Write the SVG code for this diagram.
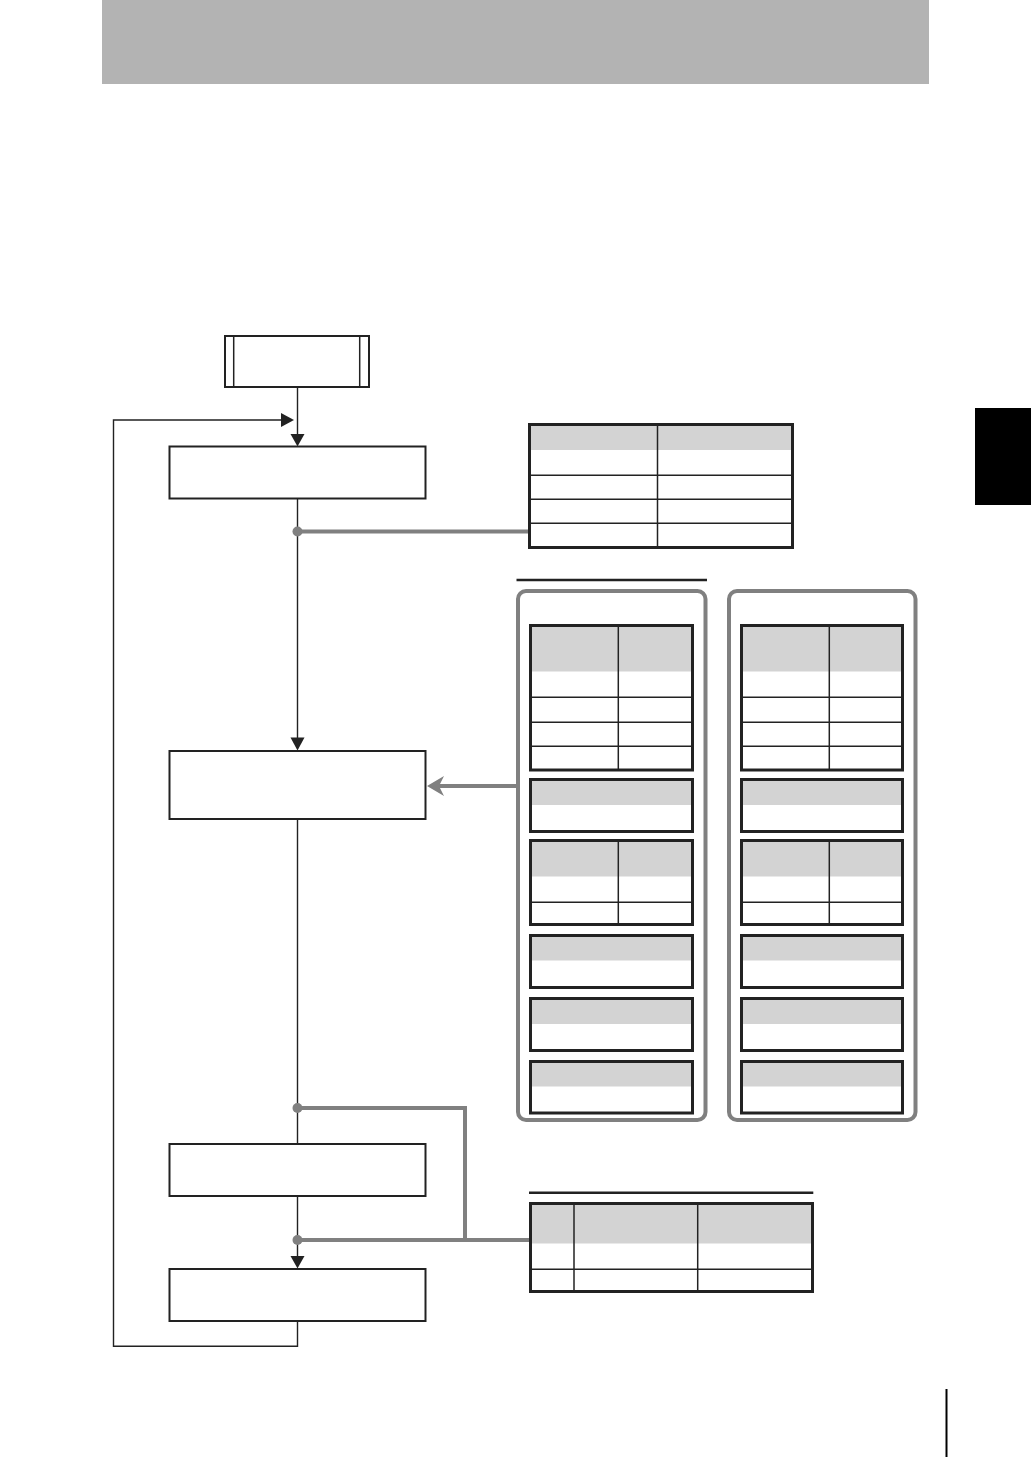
<svg xmlns="http://www.w3.org/2000/svg" width="1031" height="1457" viewBox="0 0 1031 1457">
<style>
.box{fill:#fff;stroke:#222;stroke-width:2}
.tbl{fill:none;stroke:#222;stroke-width:3}
.hd{fill:#d3d3d3}
.ln{stroke:#222;stroke-width:1.5;fill:none}
.wire{stroke:#222;stroke-width:1.4;fill:none}
.gw{stroke:#808080;stroke-width:4;fill:none}
.panel{fill:#fff;stroke:#808080;stroke-width:4}
.ah{fill:#222}
.dot{fill:#808080}
.rule{stroke:#222;stroke-width:2.5}
</style>
<rect x="0" y="0" width="1031" height="1457" fill="#fff"/>
<g id="header"><rect x="102" y="0" width="827" height="84" fill="#b3b3b3"/></g>
<g id="tab"><rect x="975" y="408" width="56" height="97" fill="#000"/></g>
<g id="pagemark"><line x1="946.5" y1="1389" x2="946.5" y2="1457" stroke="#000" stroke-width="2"/></g>

<g id="connectors">
  <line class="wire" x1="297.5" y1="387" x2="297.5" y2="435"/>
  <path class="ah" d="M290.5,434 L304.5,434 L297.5,446.5 Z"/>
  <line class="wire" x1="297.5" y1="498" x2="297.5" y2="738"/>
  <path class="ah" d="M290.5,737.5 L304.5,737.5 L297.5,750.5 Z"/>
  <line class="wire" x1="297.5" y1="819" x2="297.5" y2="1144"/>
  <line class="wire" x1="297.5" y1="1196" x2="297.5" y2="1257"/>
  <path class="ah" d="M290.5,1256 L304.5,1256 L297.5,1268.5 Z"/>
  <polyline class="wire" points="297.5,1320.5 297.5,1346.3 113.5,1346.3 113.5,420 282,420"/>
  <path class="ah" d="M281,413 L294,420 L281,427 Z"/>
  <line class="gw" x1="297.5" y1="531.5" x2="530" y2="531.5"/>
  <circle class="dot" cx="297.5" cy="531.5" r="5"/>
  <line class="gw" x1="517" y1="786" x2="438" y2="786"/>
  <path d="M427,786 L444,776 L439,786 L444,796 Z" fill="#808080"/>
  <polyline class="gw" points="297.5,1108 465,1108 465,1240"/>
  <line class="gw" x1="297.5" y1="1240" x2="530" y2="1240"/>
  <circle class="dot" cx="297.5" cy="1108" r="5"/>
  <circle class="dot" cx="297.5" cy="1240" r="5"/>
</g>

<g id="start">
  <rect class="box" x="225" y="336" width="144" height="51"/>
  <line class="ln" x1="233.7" y1="336" x2="233.7" y2="387"/>
  <line class="ln" x1="359.7" y1="336" x2="359.7" y2="387"/>
</g>
<g id="step1"><rect class="box" x="169.5" y="446.5" width="256" height="52"/></g>
<g id="step2"><rect class="box" x="169.5" y="751" width="256" height="68"/></g>
<g id="step3"><rect class="box" x="169.5" y="1144" width="256" height="52"/></g>
<g id="step4"><rect class="box" x="169.5" y="1269" width="256" height="52"/></g>

<g id="table1">
  <rect x="529.5" y="424.5" width="263" height="123" fill="#fff"/>
  <rect class="hd" x="529.5" y="424.5" width="263" height="25.5"/>
  <line class="ln" x1="657.5" y1="424.5" x2="657.5" y2="547.5"/>
  <line class="ln" x1="529.5" y1="475.3" x2="792.5" y2="475.3"/>
  <line class="ln" x1="529.5" y1="499.3" x2="792.5" y2="499.3"/>
  <line class="ln" x1="529.5" y1="523.3" x2="792.5" y2="523.3"/>
  <rect class="tbl" x="529.5" y="424.5" width="263" height="123"/>
</g>

<g id="rule-left"><line class="rule" x1="516.5" y1="580" x2="707" y2="580"/></g>

<g id="panel-left">
  <rect class="panel" x="518" y="591" width="187.5" height="529" rx="8"/>
  <g id="pl-t1">
    <rect class="hd" x="530.5" y="625.5" width="162" height="46"/>
    <line class="ln" x1="618.3" y1="625.5" x2="618.3" y2="770"/>
    <line class="ln" x1="530.5" y1="697.3" x2="692.5" y2="697.3"/>
    <line class="ln" x1="530.5" y1="722.3" x2="692.5" y2="722.3"/>
    <line class="ln" x1="530.5" y1="746.3" x2="692.5" y2="746.3"/>
    <rect class="tbl" x="530.5" y="625.5" width="162" height="144.5"/>
  </g>
  <g id="pl-t2">
    <rect class="hd" x="530.5" y="779.5" width="162" height="25.5"/>
    <rect class="tbl" x="530.5" y="779.5" width="162" height="52"/>
  </g>
  <g id="pl-t3">
    <rect class="hd" x="530.5" y="840.5" width="162" height="36"/>
    <line class="ln" x1="618.3" y1="840.5" x2="618.3" y2="924.5"/>
    <line class="ln" x1="530.5" y1="902.3" x2="692.5" y2="902.3"/>
    <rect class="tbl" x="530.5" y="840.5" width="162" height="84"/>
  </g>
  <g id="pl-t4">
    <rect class="hd" x="530.5" y="935.5" width="162" height="25"/>
    <rect class="tbl" x="530.5" y="935.5" width="162" height="52"/>
  </g>
  <g id="pl-t5">
    <rect class="hd" x="530.5" y="998.5" width="162" height="25.5"/>
    <rect class="tbl" x="530.5" y="998.5" width="162" height="52"/>
  </g>
  <g id="pl-t6">
    <rect class="hd" x="530.5" y="1061.5" width="162" height="25"/>
    <rect class="tbl" x="530.5" y="1061.5" width="162" height="51.5"/>
  </g>
</g>

<g id="panel-right">
  <rect class="panel" x="729" y="591" width="186.5" height="529" rx="8"/>
  <g id="pr-t1">
    <rect class="hd" x="741.5" y="625.5" width="161" height="46"/>
    <line class="ln" x1="829.3" y1="625.5" x2="829.3" y2="770"/>
    <line class="ln" x1="741.5" y1="697.3" x2="902.5" y2="697.3"/>
    <line class="ln" x1="741.5" y1="722.3" x2="902.5" y2="722.3"/>
    <line class="ln" x1="741.5" y1="746.3" x2="902.5" y2="746.3"/>
    <rect class="tbl" x="741.5" y="625.5" width="161" height="144.5"/>
  </g>
  <g id="pr-t2">
    <rect class="hd" x="741.5" y="779.5" width="161" height="25.5"/>
    <rect class="tbl" x="741.5" y="779.5" width="161" height="52"/>
  </g>
  <g id="pr-t3">
    <rect class="hd" x="741.5" y="840.5" width="161" height="36"/>
    <line class="ln" x1="829.3" y1="840.5" x2="829.3" y2="924.5"/>
    <line class="ln" x1="741.5" y1="902.3" x2="902.5" y2="902.3"/>
    <rect class="tbl" x="741.5" y="840.5" width="161" height="84"/>
  </g>
  <g id="pr-t4">
    <rect class="hd" x="741.5" y="935.5" width="161" height="25"/>
    <rect class="tbl" x="741.5" y="935.5" width="161" height="52"/>
  </g>
  <g id="pr-t5">
    <rect class="hd" x="741.5" y="998.5" width="161" height="25.5"/>
    <rect class="tbl" x="741.5" y="998.5" width="161" height="52"/>
  </g>
  <g id="pr-t6">
    <rect class="hd" x="741.5" y="1061.5" width="161" height="25"/>
    <rect class="tbl" x="741.5" y="1061.5" width="161" height="51.5"/>
  </g>
</g>

<g id="rule-bottom"><line class="rule" x1="529" y1="1192.7" x2="813.3" y2="1192.7"/></g>
<g id="table-bottom">
  <rect x="530.5" y="1203.5" width="282" height="88" fill="#fff"/>
  <rect class="hd" x="530.5" y="1203.5" width="282" height="40"/>
  <line class="ln" x1="574" y1="1203.5" x2="574" y2="1291.5"/>
  <line class="ln" x1="697.7" y1="1203.5" x2="697.7" y2="1291.5"/>
  <line class="ln" x1="530.5" y1="1269.3" x2="812.5" y2="1269.3"/>
  <rect class="tbl" x="530.5" y="1203.5" width="282" height="88"/>
</g>
</svg>
